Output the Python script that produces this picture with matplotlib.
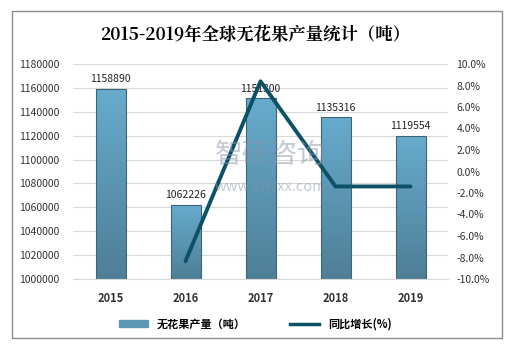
import numpy as np
import matplotlib.pyplot as plt
from matplotlib.patches import Rectangle, Patch
from matplotlib.lines import Line2D
from matplotlib.colors import LinearSegmentedColormap
from matplotlib.ticker import FuncFormatter

plt.rcParams['font.family'] = ['Noto Sans CJK SC', 'DejaVu Sans']

years = ['2015', '2016', '2017', '2018', '2019']
output = [1158890, 1062226, 1151300, 1135316, 1119554]
growth_years = ['2016', '2017', '2018', '2019']
growth = [-8.34, 8.39, -1.39, -1.39]

fig = plt.figure(figsize=(5.11, 3.49), dpi=100)
fig.patches.append(Rectangle((12 / 511, 11 / 349), 490 / 511, 327 / 349, transform=fig.transFigure,
                             fill=False, edgecolor='#8c8c8c', linewidth=1.0))
fig.text(0.5, 1 - 35 / 349, '2015-2019年全球无花果产量统计（吨）', ha='center', va='center',
         fontsize=12.5, fontweight='bold', family=['Noto Serif CJK SC', 'Noto Sans CJK SC', 'DejaVu Serif'])

ax = fig.add_axes([73 / 511, 1 - 279 / 349, 375 / 511, 215 / 349])
x = np.arange(len(years))
ax.set_xlim(-0.5, len(years) - 0.5)
ax.set_ylim(1000000, 1180000)
ax.set_yticks(np.arange(1000000, 1180001, 20000))
ax.yaxis.set_major_formatter(FuncFormatter(lambda v, p: '%d' % v))
ax.yaxis.grid(True, color='#d9d9d9', linewidth=0.8)
ax.set_axisbelow(True)
for s in ax.spines.values():
    s.set_visible(False)
ax.spines['bottom'].set_visible(True)
ax.spines['bottom'].set_color('#d9d9d9')
ax.tick_params(length=0, labelsize=7.5, colors='#333333')
ax.tick_params(axis='y', pad=10)
ax.set_xticks(x)
ax.set_xticklabels(years, fontweight='bold', fontsize=8)
ax.tick_params(axis='x', pad=9)

# gradient bars
grad = np.linspace(0, 1, 256).reshape(-1, 1)
cmap = LinearSegmentedColormap.from_list('g', ['#4e7f96', '#67abcd'])
w = 0.4
bars = ax.bar(x, output, width=w, color='none', edgecolor='#3d6477', linewidth=0.8, zorder=3)
for b in bars:
    im = ax.imshow(grad, cmap=cmap, aspect='auto', origin='lower',
                   extent=[b.get_x(), b.get_x() + w, 1000000, b.get_height()], zorder=2)
    im.set_clip_path(b)
for xi, v in zip(x, output):
    ax.text(xi, v + 4000, str(v), ha='center', va='bottom', fontsize=7.5, color='#222222', zorder=5)

ax2 = ax.twinx()
ax2.set_ylim(-10, 10)
ax2.set_yticks(np.arange(-10, 10.1, 2))
ax2.set_yticklabels(['%.1f%%' % t for t in np.arange(-10, 10.1, 2)])
for s in ax2.spines.values():
    s.set_visible(False)
ax2.tick_params(length=0, labelsize=7.5, colors='#333333', pad=6)
gx = [years.index(y) for y in growth_years]
ax2.plot(gx, growth, color='#0d5166', linewidth=2.8, solid_capstyle='round', zorder=4)

# watermark
fig.text(215 / 511, 1 - 155 / 349, '智研咨询', fontsize=20, color='#8a94a8', alpha=0.5, ha='left', va='center')
fig.text(215 / 511, 1 - 187 / 349, 'www.chyxx.com', fontsize=10.5, color='#8a94a8', alpha=0.5, ha='left', va='center')

handles = [Patch(facecolor='#5d97b6', edgecolor='#5d97b6'),
           Line2D([0], [0], color='#0d5166', linewidth=2.5)]
fig.legend(handles, ['无花果产量（吨）', '同比增长(%)'], loc='center', ncol=2,
           bbox_to_anchor=(0.5, 1 - 324 / 349), frameon=False,
           prop={'weight': 'bold', 'size': 8}, handlelength=2.6, handleheight=0.5, columnspacing=4)

fig.savefig('out.png', dpi=100)
